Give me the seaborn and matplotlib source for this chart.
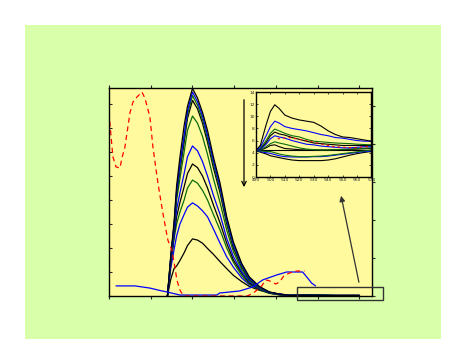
import matplotlib
matplotlib.use("Agg")
import matplotlib.pyplot as plt
from matplotlib.patches import Rectangle
import seaborn as sns

# ---------------- data (main panel) ----------------
main_x = [370, 374, 378, 381, 385, 390, 394, 400, 406, 412, 418, 425, 433, 441,
          449, 459, 468, 480, 492, 504, 516, 540, 570, 600]

fam1_black = [0, 7, 11.5, 12.5, 14.8, 18, 21, 23.8, 23.3, 22, 19.8, 17.4, 14.3, 11.4,
              8.6, 6, 4, 2.4, 1.4, 0.8, 0.4, 0.3, 0.2, 0.2]
fam2_blue = [0, 11.5, 19.5, 25, 30, 34, 37, 38.8, 37.5, 35.5, 33, 28, 22, 16.3,
             12, 7.5, 4.7, 3, 1.5, 0.8, 0.3, 0.3, 0.2, 0.2]
fam3_green = [0, 13, 24, 30, 35, 40, 45, 48.3, 47, 44, 40, 34, 27.5, 20,
              14, 8.5, 5, 2.6, 1.1, 0.5, 0.2, 0.3, 0.2, 0.2]
fam4_black = [0, 13.5, 25, 33, 39, 45.5, 51, 55, 53.5, 50, 45, 38, 30.5, 22,
              15, 9.5, 5.5, 2.8, 1.2, 0.5, 0.2, 0.3, 0.2, 0.2]
fam5_blue = [0, 14, 26, 36, 43, 51, 58, 62.5, 60.5, 56, 50, 42, 34, 24,
             16.5, 10, 6, 3, 1.3, 0.6, 0.2, 0.3, 0.2, 0.2]
fam6_green = [0, 15, 28, 40, 49, 60, 69, 75, 72, 66.5, 59, 49, 39, 27.5,
              18.5, 11, 6.5, 3.2, 1.4, 0.6, 0.2, 0.3, 0.2, 0.2]
fam7_black = [0, 15.5, 29, 42, 52.5, 64, 74, 81.5, 78, 72, 64, 53.5, 43, 30,
              20, 12, 7, 3.5, 1.5, 0.7, 0.2, 0.3, 0.2, 0.2]
fam8_green = [0, 16, 29.5, 43, 54, 66, 75.5, 83.5, 79.5, 73.5, 65.5, 55, 44.5, 31,
              21, 12.5, 7.3, 3.6, 1.5, 0.7, 0.2, 0.3, 0.2, 0.2]
fam9_blue = [0, 16, 30, 44, 55, 67, 77, 85, 81, 75, 67, 56.5, 45.5, 32,
             21.5, 13, 7.5, 3.8, 1.6, 0.8, 0.2, 0.3, 0.2, 0.2]
fam10_black = [0, 17, 31, 46, 58, 71, 79, 86.5, 82.5, 76.5, 69, 58, 47, 33,
               22.5, 13.5, 8, 4, 1.7, 0.8, 0.2, 0.3, 0.2, 0.2]

red_x = [300, 303.6, 304.8, 308.4, 313.1, 315.5, 319.1, 325.1, 328.7, 333.5, 339.4,
         343.0, 349.0, 352.6, 358.6, 364.5, 370.5, 375.3, 378.9, 381.3, 384.9, 388.5,
         392, 430, 466, 474.5, 482.9, 487.7, 492.4, 499.6, 504.4, 509.2, 516.4, 524.7, 534.3]
red_y = [76.3, 62.1, 57.9, 53.8, 53.3, 57.5, 62.1, 76.3, 80.8, 82.9, 85.0,
         82.5, 74.6, 62.1, 47.1, 34.6, 23.3, 19.2, 12.1, 6.7, 2.5, 0.4,
         0, 0, 0, 1.7, 4.2, 6.7, 6.3, 5.0, 5.8, 8.3, 9.6, 10.4, 10.4]

blue_x = [308.4, 331.1, 349.0, 363.4, 369.3, 384.9, 429.1, 432.7, 456.6, 472.1, 484.1,
          500.8, 512.8, 531.9, 537.9, 542.6, 547.4]
blue_y = [4.2, 4.2, 3.3, 2.1, 1.7, 0.4, 0.4, 1.25, 2.1, 3.75, 6.7,
          8.75, 10.0, 10.0, 7.5, 5.4, 4.2]

main_xticks = [300, 350, 400, 450, 500, 550, 600]
main_yticks = [0, 10, 20, 30, 40, 50, 60, 70, 80]
right_yticks = [0, 1, 2, 3, 4, 5]

# ---------------- data (inset) ----------------
inset_x = [490, 493, 497, 500, 503, 506, 510, 515, 520, 525, 530, 535, 540, 545,
           550, 555, 560, 565, 570]
ins1_black = [4.4, 5.2, 8.6, 10.8, 11.9, 11.3, 10.2, 9.7, 9.4, 9.2, 9.0, 8.4, 7.6, 7.0, 6.6, 6.5, 6.3, 6.1, 5.9]
ins2_blue = [4.3, 4.9, 6.8, 8.3, 9.2, 8.9, 8.3, 8.0, 7.8, 7.6, 7.3, 7.0, 6.8, 6.5, 6.4, 6.2, 6.0, 5.9, 5.9]
ins3_green = [4.3, 4.7, 6.0, 7.2, 7.9, 7.6, 7.2, 6.8, 6.6, 6.2, 5.9, 5.8, 5.7, 5.6, 5.55, 5.5, 5.4, 5.35, 5.3]
ins4_black = [4.3, 4.6, 5.7, 6.8, 7.4, 7.1, 6.9, 6.5, 6.2, 5.9, 5.6, 5.5, 5.4, 5.3, 5.2, 5.2, 5.2, 5.2, 5.2]
ins5_blue = [4.3, 4.5, 5.4, 6.3, 6.8, 6.6, 6.4, 6.0, 5.7, 5.4, 5.3, 5.1, 5.0, 4.9, 4.8, 4.8, 4.9, 5.0, 5.0]
ins6_green = [4.3, 4.4, 5.0, 5.5, 5.8, 5.6, 5.4, 5.1, 4.8, 4.6, 4.5, 4.45, 4.45, 4.5, 4.55, 4.6, 4.7, 4.75, 4.8]
ins7_black = [4.3, 4.4, 4.8, 5.2, 5.3, 5.0, 4.7, 4.6, 4.5, 4.45, 4.45, 4.45, 4.45, 4.5, 4.5, 4.55, 4.6, 4.65, 4.7]
ins8_green = [4.3, 4.3, 4.2, 4.2, 4.0, 3.8, 3.6, 3.45, 3.35, 3.35, 3.4, 3.45, 3.55, 3.7, 3.85, 4.0, 4.15, 4.3, 4.45]
ins9_blue = [4.3, 4.2, 4.0, 3.9, 3.7, 3.5, 3.35, 3.3, 3.3, 3.3, 3.35, 3.35, 3.45, 3.6, 3.75, 3.9, 4.05, 4.2, 4.3]
ins10_black = [4.3, 4.1, 3.8, 3.5, 3.35, 3.2, 3.0, 2.8, 2.7, 2.7, 2.7, 2.7, 2.8, 3.0, 3.3, 3.6, 3.85, 4.05, 4.2]
ins_base = [4.4, 4.4, 4.4, 4.4, 4.4, 4.4, 4.4, 4.4, 4.4, 4.4, 4.4, 4.4, 4.4, 4.4, 4.4, 4.4, 4.4, 4.4, 4.4]
ins_red_x = [505, 513, 520, 529, 536, 544, 551, 558, 565, 570]
ins_red_y = [6.3, 6.5, 6.2, 5.8, 5.4, 5.0, 4.9, 4.8, 5.0, 5.0]

inset_xticks = [490, 500, 510, 520, 530, 540, 550, 560, 570]
inset_yticks = [0, 2, 4, 6, 8, 10, 12, 14]

# ---------------- style ----------------
BLACK = "#000000"
BLUE = "#0000FF"
GREEN = "#0B6B0B"
RED = "#FF0000"
YELLOW = "#FFFA9E"
LGREEN = "#D9FFAA"

sns.set_style("ticks")
plt.rcParams["font.family"] = ["DejaVu Sans"]

fig = plt.figure(figsize=(4.64, 3.6), dpi=100)
fig.patch.set_facecolor("white")
bg = Rectangle((0.0539, 0.0583), 0.8966, 0.8722, transform=fig.transFigure,
               facecolor=LGREEN, edgecolor="none", zorder=-10)
fig.patches.append(bg)

ax = fig.add_axes([0.2349, 0.1778, 0.5668, 0.5778])
ax.set_facecolor(YELLOW)

family = [(fam1_black, BLACK), (fam2_blue, BLUE), (fam3_green, GREEN), (fam4_black, BLACK),
          (fam5_blue, BLUE), (fam6_green, GREEN), (fam7_black, BLACK), (fam8_green, GREEN),
          (fam9_blue, BLUE), (fam10_black, BLACK)]
for ys, col in family:
    sns.lineplot(x=main_x, y=ys, ax=ax, color=col, linewidth=0.9, sort=False, estimator=None)

sns.lineplot(x=blue_x, y=blue_y, ax=ax, color=BLUE, linewidth=0.9, sort=False, estimator=None)
sns.lineplot(x=red_x, y=red_y, ax=ax, color=RED, linewidth=0.9, sort=False, estimator=None,
             linestyle=(0, (4, 3)))

ax.set_xlim(300, 615)
ax.set_ylim(0, 86.67)
ax.set_xticks(main_xticks)
ax.set_yticks(main_yticks)
ax.set_xlabel("")
ax.set_ylabel("")
ax.tick_params(axis="x", direction="out", top=True, bottom=True, length=2.5, width=0.8,
               labelbottom=False, labeltop=False)
ax.tick_params(axis="y", direction="in", left=True, length=2.5, width=0.8, labelleft=False)
for s in ax.spines.values():
    s.set_linewidth(1.0)
    s.set_color("black")

axr = ax.twinx()
axr.set_ylim(0, 5.47)
axr.set_yticks(right_yticks)
axr.tick_params(axis="y", direction="out", length=2.5, width=0.8, labelright=False)
for s in axr.spines.values():
    s.set_visible(False)

# arrows and zoom box
ax.annotate("", xy=(461.7, 44.2), xytext=(461.7, 82.9),
            arrowprops=dict(arrowstyle="->", color="black", lw=0.9, mutation_scale=8))
ax.annotate("", xy=(577.3, 42.9), xytext=(600, 4.6),
            arrowprops=dict(arrowstyle="-|>", color="#333333", lw=0.9, mutation_scale=8))
ax.add_patch(Rectangle((524.7, -1.67), 104.0, 5.42, facecolor="none", edgecolor="#333333",
                       lw=1.0, clip_on=False, zorder=5))

# ---------------- inset ----------------
axi = fig.add_axes([0.5517, 0.5083, 0.2489, 0.2361])
axi.set_facecolor(YELLOW)
inset_curves = [(ins_base, BLACK), (ins10_black, BLACK), (ins9_blue, BLUE), (ins8_green, GREEN),
                (ins7_black, BLACK), (ins6_green, GREEN), (ins5_blue, BLUE), (ins4_black, BLACK),
                (ins3_green, GREEN), (ins2_blue, BLUE), (ins1_black, BLACK)]
for ys, col in inset_curves:
    sns.lineplot(x=inset_x, y=ys, ax=axi, color=col, linewidth=0.8, sort=False, estimator=None)
sns.lineplot(x=ins_red_x, y=ins_red_y, ax=axi, color=RED, linewidth=0.8, sort=False,
             estimator=None, linestyle=(0, (2, 3)))
axi.set_xlim(490, 570)
axi.set_ylim(0, 14)
axi.set_xticks(inset_xticks)
axi.set_yticks(inset_yticks)
axi.set_xlabel("")
axi.set_ylabel("")
axi.tick_params(direction="in", top=True, right=True, length=1.5, width=0.6,
                labelsize=3.2, pad=0.8)
for s in axi.spines.values():
    s.set_linewidth(1.0)
    s.set_color("black")

fig.savefig("out.png", dpi=100)
